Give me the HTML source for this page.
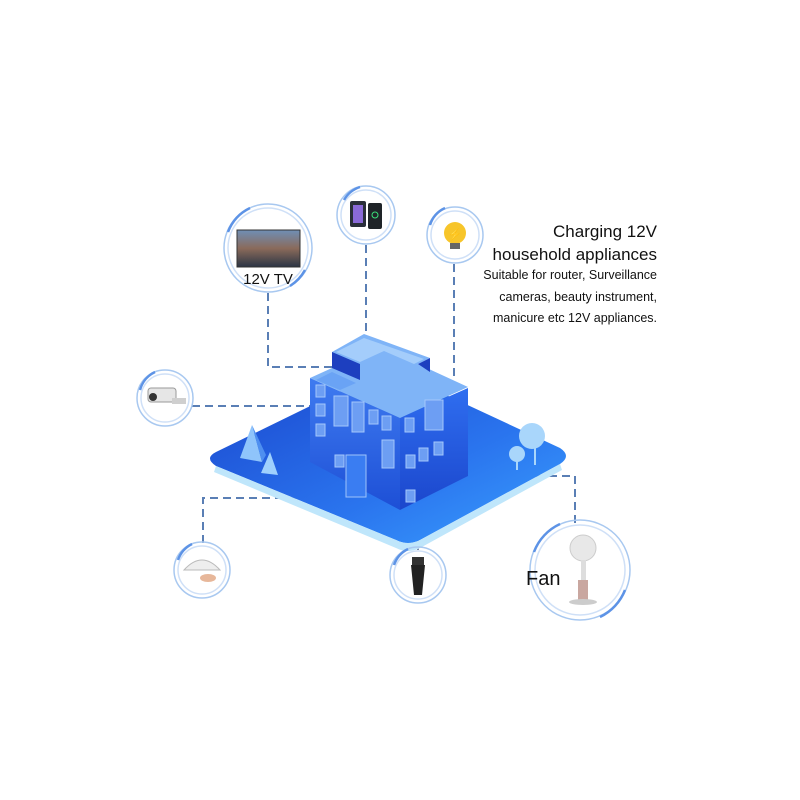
<!DOCTYPE html>
<html><head><meta charset="utf-8"><style>
html,body{margin:0;padding:0;background:#fff;width:800px;height:800px;overflow:hidden}
svg{display:block}
</style></head><body>
<svg width="800" height="800" viewBox="0 0 800 800" xmlns="http://www.w3.org/2000/svg" font-family="Liberation Sans, sans-serif">
<defs>
<linearGradient id="plat" x1="0" y1="0" x2="1" y2="1">
<stop offset="0" stop-color="#1a45cc"/><stop offset="0.6" stop-color="#2a74ee"/><stop offset="1" stop-color="#3aa0ff"/></linearGradient>
<linearGradient id="lf" x1="0" y1="0" x2="0" y2="1"><stop offset="0" stop-color="#3f7bf0"/><stop offset="1" stop-color="#1d4fd6"/></linearGradient>
<linearGradient id="rf" x1="0" y1="0" x2="0" y2="1"><stop offset="0" stop-color="#2f6ef0"/><stop offset="1" stop-color="#1b46cc"/></linearGradient>
<linearGradient id="tv" x1="0" y1="0" x2="0" y2="1"><stop offset="0" stop-color="#6f8fb6"/><stop offset="0.5" stop-color="#8a6a5a"/><stop offset="1" stop-color="#2b3545"/></linearGradient>
</defs>

<g fill="none" stroke="#5a7fb5" stroke-width="2" stroke-dasharray="8,5">
<polyline points="268,293 268,367 332,367"/>
<polyline points="366,245 366,335"/>
<polyline points="454,264 454,382"/>
<polyline points="192,406 312,406"/>
<polyline points="203,543 203,498 400,498"/>
<polyline points="380,476 575,476 575,524"/>
</g>
<line x1="418" y1="470" x2="418" y2="550" stroke="#3a4f7a" stroke-width="1.3"/>

<path d="M388,368 L560,448 Q572,456 560,464 L420,540 Q408,546 396,540 L216,466 Q204,458 216,452 Z" fill="url(#plat)"/>
<path d="M216,466 L396,540 Q408,546 420,540 L560,464 L562,470 L420,548 Q408,554 396,548 L214,472 Z" fill="#bfe6fb"/>
<polygon points="252,425 240,458 262,462" fill="#8fc4fb"/>
<polygon points="252,425 262,462 266,455" fill="#4e8ff0"/>
<polygon points="270,452 261,473 278,475" fill="#9fd0fd"/>
<circle cx="532" cy="436" r="13" fill="#a9d6fb"/><line x1="535" y1="448" x2="535" y2="465" stroke="#a9d6fb" stroke-width="2"/>
<circle cx="517" cy="454" r="8" fill="#a9d6fb"/><line x1="517" y1="460" x2="517" y2="470" stroke="#a9d6fb" stroke-width="2"/>

<polygon points="310,378 400,418 400,510 310,462" fill="url(#lf)"/>
<polygon points="400,418 468,388 468,476 400,510" fill="url(#rf)"/>
<polygon points="310,378 332,368 332,352 364,334 430,358 418,364 468,387 400,418" fill="#7fb4f7"/>
<polygon points="336,352 364,338 424,359 414,364 384,351 360,362" fill="#a4cdfb"/>
<polygon points="332,352 360,364 360,380 332,368" fill="#1d3fbf"/>
<polygon points="418,364 430,358 430,372" fill="#1d3fbf"/>
<polygon points="316,380 332,372 356,383 340,390" fill="#6aa3f5"/>
<g fill="#6d9ef3" stroke="#a4c7fb" stroke-width="1">
<rect x="316" y="385" width="9" height="12"/><rect x="316" y="404" width="9" height="12"/><rect x="316" y="424" width="9" height="12"/>
<rect x="334" y="396" width="14" height="30"/><rect x="352" y="402" width="12" height="30"/>
<rect x="369" y="410" width="9" height="14"/><rect x="382" y="416" width="9" height="14"/>
<rect x="382" y="440" width="12" height="28"/><rect x="335" y="455" width="9" height="12"/>
<rect x="405" y="418" width="9" height="14"/><rect x="425" y="400" width="18" height="30"/>
<rect x="406" y="455" width="9" height="13"/><rect x="419" y="448" width="9" height="13"/><rect x="434" y="442" width="9" height="13"/>
<rect x="406" y="490" width="9" height="12"/>
</g>
<rect x="346" y="455" width="20" height="42" fill="#3a7df2" stroke="#9ec4fb"/>

<g fill="none" stroke="#a8c8f0" stroke-width="1.5">
<circle cx="268" cy="248" r="44"/><circle cx="268" cy="248" r="40" stroke="#cfe0f7"/>
<circle cx="366" cy="215" r="29"/><circle cx="366" cy="215" r="25" stroke="#cfe0f7"/>
<circle cx="455" cy="235" r="28"/><circle cx="455" cy="235" r="24" stroke="#cfe0f7"/>
<circle cx="165" cy="398" r="28"/><circle cx="165" cy="398" r="24" stroke="#cfe0f7"/>
<circle cx="202" cy="570" r="28"/><circle cx="202" cy="570" r="24" stroke="#cfe0f7"/>
<circle cx="418" cy="575" r="28"/><circle cx="418" cy="575" r="24" stroke="#cfe0f7"/>
<circle cx="580" cy="570" r="50"/><circle cx="580" cy="570" r="45" stroke="#cfe0f7"/>
</g>
<g fill="none" stroke="#5d93e6" stroke-width="2.5">
<path d="M228,232 A44,44 0 0 1 250,208"/><path d="M305,270 A44,44 0 0 1 290,286"/>
<path d="M344,200 A29,29 0 0 1 360,187"/><path d="M430,225 A28,28 0 0 1 445,208"/>
<path d="M140,390 A28,28 0 0 1 155,372"/><path d="M178,560 A28,28 0 0 1 192,544"/>
<path d="M394,565 A28,28 0 0 1 408,549"/><path d="M534,552 A50,50 0 0 1 560,524"/><path d="M625,590 A50,50 0 0 1 600,617"/>
</g>

<rect x="237" y="230" width="63" height="37" fill="url(#tv)" stroke="#333" stroke-width="1"/>
<text x="268" y="284" font-size="15" text-anchor="middle" fill="#111">12V TV</text>
<rect x="350" y="201" width="16" height="26" rx="2" fill="#2a2f3a"/><rect x="353" y="205" width="10" height="18" fill="#8a6ad8"/>
<rect x="368" y="203" width="14" height="26" rx="2" fill="#1f2428"/><circle cx="375" cy="215" r="3" fill="none" stroke="#3be07a"/>
<circle cx="455" cy="233" r="11" fill="#f7c52a"/><rect x="450" y="243" width="10" height="6" fill="#666"/>
<text x="455" y="238" font-size="11" text-anchor="middle" fill="#b24a00">⚡</text>
<rect x="148" y="388" width="28" height="14" rx="3" fill="#e6e6e6" stroke="#999"/><circle cx="153" cy="397" r="4" fill="#333"/>
<rect x="172" y="398" width="14" height="6" fill="#cfcfcf"/>
<path d="M184,570 Q202,550 220,570 Z" fill="#eee" stroke="#bbb"/><ellipse cx="208" cy="578" rx="8" ry="4" fill="#e7b79a"/>
<rect x="412" y="557" width="12" height="8" fill="#333"/><path d="M411,565 L425,565 L422,595 L414,595 Z" fill="#222"/>
<circle cx="583" cy="548" r="13" fill="#e8e8e8" stroke="#ccc"/><rect x="581" y="560" width="5" height="40" fill="#ddd"/>
<rect x="578" y="580" width="10" height="20" fill="#c9a7a0"/><ellipse cx="583" cy="602" rx="14" ry="3" fill="#ccc"/>
<text x="526" y="585" font-size="20" fill="#111">Fan</text>

<g text-anchor="end" fill="#111">
<text x="657" y="237" font-size="17">Charging 12V</text>
<text x="657" y="260" font-size="17">household appliances</text>
<text x="657" y="279" font-size="12.5">Suitable for router, Surveillance</text>
<text x="657" y="301" font-size="12.5">cameras, beauty instrument,</text>
<text x="657" y="322" font-size="12.5">manicure etc 12V appliances.</text>
</g>
</svg>
</body></html>
